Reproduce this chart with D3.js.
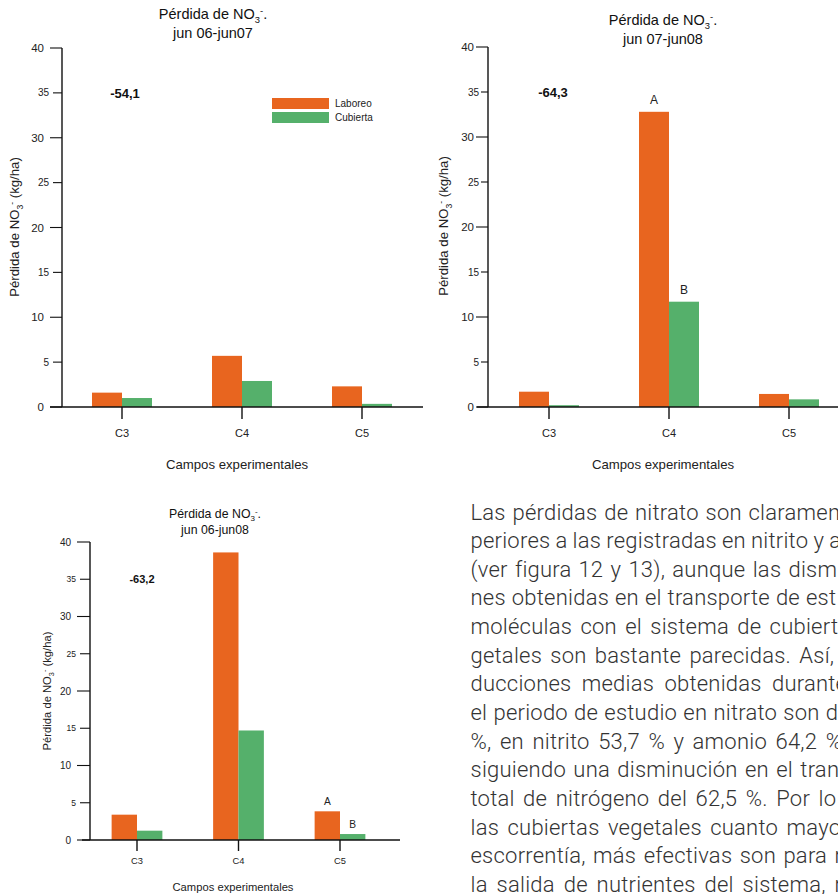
<!DOCTYPE html>
<html>
<head>
<meta charset="utf-8">
<script src="https://cdn.jsdelivr.net/npm/d3@7"></script>
<style>
  html, body { margin: 0; padding: 0; background: #fff; }
  svg { display: block; }
</style>
</head>
<body>
<svg id="fig" width="838" height="894"></svg>
<script>
// ---------------- DATA ----------------
const categories = ["C3", "C4", "C5"];
const seriesNames = ["Laboreo", "Cubierta"];
const yTicks = [0, 5, 10, 15, 20, 25, 30, 35, 40];

const laboreo0607 = [1.6, 5.7, 2.3];
const cubierta0607 = [1.0, 2.9, 0.35];

const laboreo0708 = [1.7, 32.8, 1.45];
const cubierta0708 = [0.2, 11.7, 0.85];

const laboreo0608 = [3.4, 38.6, 3.85];
const cubierta0608 = [1.25, 14.7, 0.8];

const periods = ["jun 06-jun07", "jun 07-jun08", "jun 06-jun08"];
const reductions = ["-54,1", "-64,3", "-63,2"];
const letters0708 = [{cat: "C4", s: 0, t: "A"}, {cat: "C4", s: 1, t: "B"}];
const letters0608 = [{cat: "C5", s: 0, t: "A"}, {cat: "C5", s: 1, t: "B"}];

const xTitle = "Campos experimentales";

const paragraph = [
  "Las pérdidas de nitrato son claramen",
  "periores a las registradas en nitrito y a",
  "(ver figura 12 y 13), aunque las dism",
  "nes obtenidas en el transporte de est",
  "moléculas con el sistema de cubiert",
  "getales son bastante parecidas. Así,",
  "ducciones medias obtenidas durante",
  "el periodo de estudio en nitrato son d",
  "%, en nitrito 53,7 % y amonio 64,2 %",
  "siguiendo una disminución en el tran",
  "total de nitrógeno del 62,5 %. Por lo",
  "las cubiertas vegetales cuanto mayo",
  "escorrentía, más efectivas son para r",
  "la salida de nutrientes del sistema, r"
];

// ---------------- STYLE ----------------
const ORANGE = "#e8651f";
const GREEN = "#55b06b";
const FONT = "'Liberation Sans', Arial, Helvetica, sans-serif";

const svg = d3.select("#fig");
svg.append("rect").attr("width", 838).attr("height", 894).attr("fill", "#fff");

function no3(sel, size, suffix) {
  sel.append("tspan").text("NO");
  sel.append("tspan").attr("dy", size * 0.28).attr("font-size", size * 0.65).text("3");
  sel.append("tspan").attr("dy", -size * 0.62).attr("font-size", size * 0.65).text("-");
  sel.append("tspan").attr("dy", size * 0.34).text(suffix);
}

function drawChart(cfg) {
  const g = svg.append("g");
  const s = cfg.k; // font scale
  const y = d3.scaleLinear().domain([0, 40]).range([cfg.y0, cfg.y40]);
  const x0 = d3.scaleBand().domain(categories).range(cfg.xRange)
    .paddingInner(0.5).paddingOuter(0.25);
  const x1 = d3.scaleBand().domain(seriesNames).range([0, x0.bandwidth()]);
  const color = d3.scaleOrdinal().domain(seriesNames).range([ORANGE, GREEN]);

  const rows = categories.map((c, i) => ({cat: c, vals: [cfg.lab[i], cfg.cub[i]]}));

  // bars
  const grp = g.selectAll("g.cat").data(rows).join("g")
    .attr("transform", d => `translate(${x0(d.cat)},0)`);
  grp.selectAll("rect").data(d => d.vals.map((v, j) => ({s: seriesNames[j], v})))
    .join("rect")
    .attr("x", d => x1(d.s))
    .attr("width", x1.bandwidth())
    .attr("y", d => y(d.v))
    .attr("height", d => y(0) - y(d.v))
    .attr("fill", d => color(d.s));

  // y axis line
  g.append("line").attr("x1", cfg.yAxisX).attr("x2", cfg.yAxisX)
    .attr("y1", y(40)).attr("y2", y(0)).attr("stroke", "#111").attr("stroke-width", 1.4);
  // y ticks
  yTicks.forEach(t => {
    const major = t % 10 === 0;
    const len = major ? cfg.majLen : cfg.minLen;
    g.append("line").attr("x1", cfg.yAxisX - len).attr("x2", cfg.yAxisX)
      .attr("y1", y(t)).attr("y2", y(t)).attr("stroke", "#111").attr("stroke-width", 1.1);
    g.append("text").attr("x", cfg.yAxisX - len - (major ? cfg.majGap : cfg.minGap))
      .attr("y", y(t)).attr("dy", "0.35em").attr("text-anchor", "end")
      .attr("font-family", FONT).attr("font-size", major ? cfg.majFont : cfg.minFont)
      .attr("fill", "#222").text(t);
  });

  // x axis line
  g.append("line").attr("x1", cfg.xAxisFrom).attr("x2", cfg.xAxisTo)
    .attr("y1", y(0)).attr("y2", y(0)).attr("stroke", "#111").attr("stroke-width", 1.4);
  categories.forEach(c => {
    const cx = x0(c) + x0.bandwidth() / 2;
    g.append("line").attr("x1", cx).attr("x2", cx)
      .attr("y1", y(0)).attr("y2", y(0) + cfg.xTickLen).attr("stroke", "#111").attr("stroke-width", 1.4);
    g.append("text").attr("x", cx).attr("y", y(0) + cfg.catDy)
      .attr("text-anchor", "middle").attr("font-family", FONT)
      .attr("font-size", 11 * s).attr("fill", "#222").text(c);
  });

  // x title
  g.append("text").attr("x", cfg.xTitleX).attr("y", y(0) + cfg.xTitleDy)
    .attr("text-anchor", "middle").attr("font-family", FONT)
    .attr("font-size", 13.2 * s).attr("fill", "#222").text(xTitle);

  // y title
  const yt = g.append("text")
    .attr("transform", `translate(${cfg.yTitleX},${cfg.yTitleY}) rotate(-90)`)
    .attr("text-anchor", "middle").attr("font-family", FONT)
    .attr("font-size", 13.2 * s).attr("fill", "#222");
  yt.append("tspan").text("Pérdida de ");
  no3(yt, 13.2 * s, " (kg/ha)");

  // title
  const t1 = g.append("text").attr("x", cfg.titleX).attr("y", cfg.titleY)
    .attr("text-anchor", "middle").attr("font-family", FONT)
    .attr("font-size", 14.5 * s).attr("fill", "#111");
  t1.append("tspan").text("Pérdida de ");
  no3(t1, 14.5 * s, ".");
  g.append("text").attr("x", cfg.titleX).attr("y", cfg.titleY + cfg.titleGap)
    .attr("text-anchor", "middle").attr("font-family", FONT)
    .attr("font-size", 14.5 * s).attr("fill", "#111").text(cfg.period);

  // reduction label
  g.append("text").attr("x", cfg.redX).attr("y", y(35) + cfg.redDy)
    .attr("text-anchor", "middle").attr("font-family", FONT).attr("font-weight", "bold")
    .attr("font-size", 13 * s).attr("fill", "#111").text(cfg.reduction);

  // significance letters
  (cfg.letters || []).forEach(L => {
    const i = categories.indexOf(L.cat);
    const v = [cfg.lab[i], cfg.cub[i]][L.s];
    g.append("text")
      .attr("x", x0(L.cat) + x1(seriesNames[L.s]) + x1.bandwidth() / 2)
      .attr("y", y(v) - cfg.letterOff)
      .attr("text-anchor", "middle").attr("font-family", FONT)
      .attr("font-size", 12 * s).attr("fill", "#222").text(L.t);
  });

  // legend
  if (cfg.legend) {
    seriesNames.forEach((n, j) => {
      g.append("rect").attr("x", cfg.legend.x).attr("y", cfg.legend.y + j * 14)
        .attr("width", 57).attr("height", 11).attr("fill", color(n));
      g.append("text").attr("x", cfg.legend.x + 63).attr("y", cfg.legend.y + j * 14 + 5.5)
        .attr("dy", "0.35em").attr("font-family", FONT).attr("font-size", 10)
        .attr("fill", "#222").text(n);
    });
  }
}

drawChart({
  lab: laboreo0607, cub: cubierta0607, period: periods[0], reduction: reductions[0],
  k: 1, y0: 407, y40: 48, xRange: [62, 422], yAxisX: 62,
  majLen: 12, minLen: 9, majGap: 6, minGap: 4, majFont: 11.5, minFont: 10,
  xAxisFrom: 50, xAxisTo: 423, xTickLen: 12, catDy: 30, xTitleX: 237, xTitleDy: 62,
  yTitleX: 19, yTitleY: 227, titleX: 213, titleY: 19, titleGap: 18.5,
  redX: 125, redDy: 5, letterOff: 8, legend: {x: 272, y: 98}
});

drawChart({
  lab: laboreo0708, cub: cubierta0708, period: periods[1], reduction: reductions[1],
  k: 1, y0: 407, y40: 47, xRange: [489, 849], yAxisX: 488,
  majLen: 12, minLen: 7, majGap: 2, minGap: 2, majFont: 11.5, minFont: 10,
  xAxisFrom: 477, xAxisTo: 840, xTickLen: 12, catDy: 30, xTitleX: 663, xTitleDy: 62,
  yTitleX: 448, yTitleY: 226, titleX: 663, titleY: 25, titleGap: 18.5,
  redX: 553, redDy: 5, letterOff: 8, letters: letters0708
});

drawChart({
  lab: laboreo0608, cub: cubierta0608, period: periods[2], reduction: reductions[2],
  k: 0.85, y0: 840, y40: 542, xRange: [86.25, 390.75], yAxisX: 90,
  majLen: 13, minLen: 10, majGap: 6, minGap: 4, majFont: 10, minFont: 8.5,
  xAxisFrom: 82, xAxisTo: 400, xTickLen: 11, catDy: 24, xTitleX: 233, xTitleDy: 51,
  yTitleX: 51, yTitleY: 691, titleX: 215, titleY: 518, titleGap: 16,
  redX: 142, redDy: 4, letterOff: 6, letters: letters0608
});

// ---------------- PARAGRAPH (justified, clipped at page edge) ----------------
const paraX = 470.5, paraY0 = 519.5, paraLead = 28.65;
const lineEnds = [840, 841, 837, 836, 838, 834, 847, 838, 842, 839, 836, 841, 842, 842];
const PFONT = "Roboto, 'Liberation Sans', sans-serif";
const pg = svg.append("g").attr("font-family", PFONT).attr("font-weight", 300)
  .attr("font-size", 22).attr("fill", "#333");
// calibrate letter spacing so that the reference word "pérdidas" is ~85px wide
const probe = pg.append("text").text("pérdidas");
const probeW = probe.node().getComputedTextLength();
probe.remove();
const ls = Math.max(-1, Math.min(2, (85 - probeW) / 8));
paragraph.forEach((line, i) => {
  const words = line.split(" ");
  const yy = paraY0 + i * paraLead;
  const nodes = words.map(w => pg.append("text").attr("y", yy).text(w));
  const widths = nodes.map((n, j) => n.node().getComputedTextLength() + ls * (words[j].length - 1));
  nodes.forEach(n => n.attr("letter-spacing", ls));
  const total = d3.sum(widths);
  const gap = (lineEnds[i] - paraX - total) / (words.length - 1);
  let cx = paraX;
  nodes.forEach((n, j) => { n.attr("x", cx); cx += widths[j] + gap; });
});
</script>
</body>
</html>
